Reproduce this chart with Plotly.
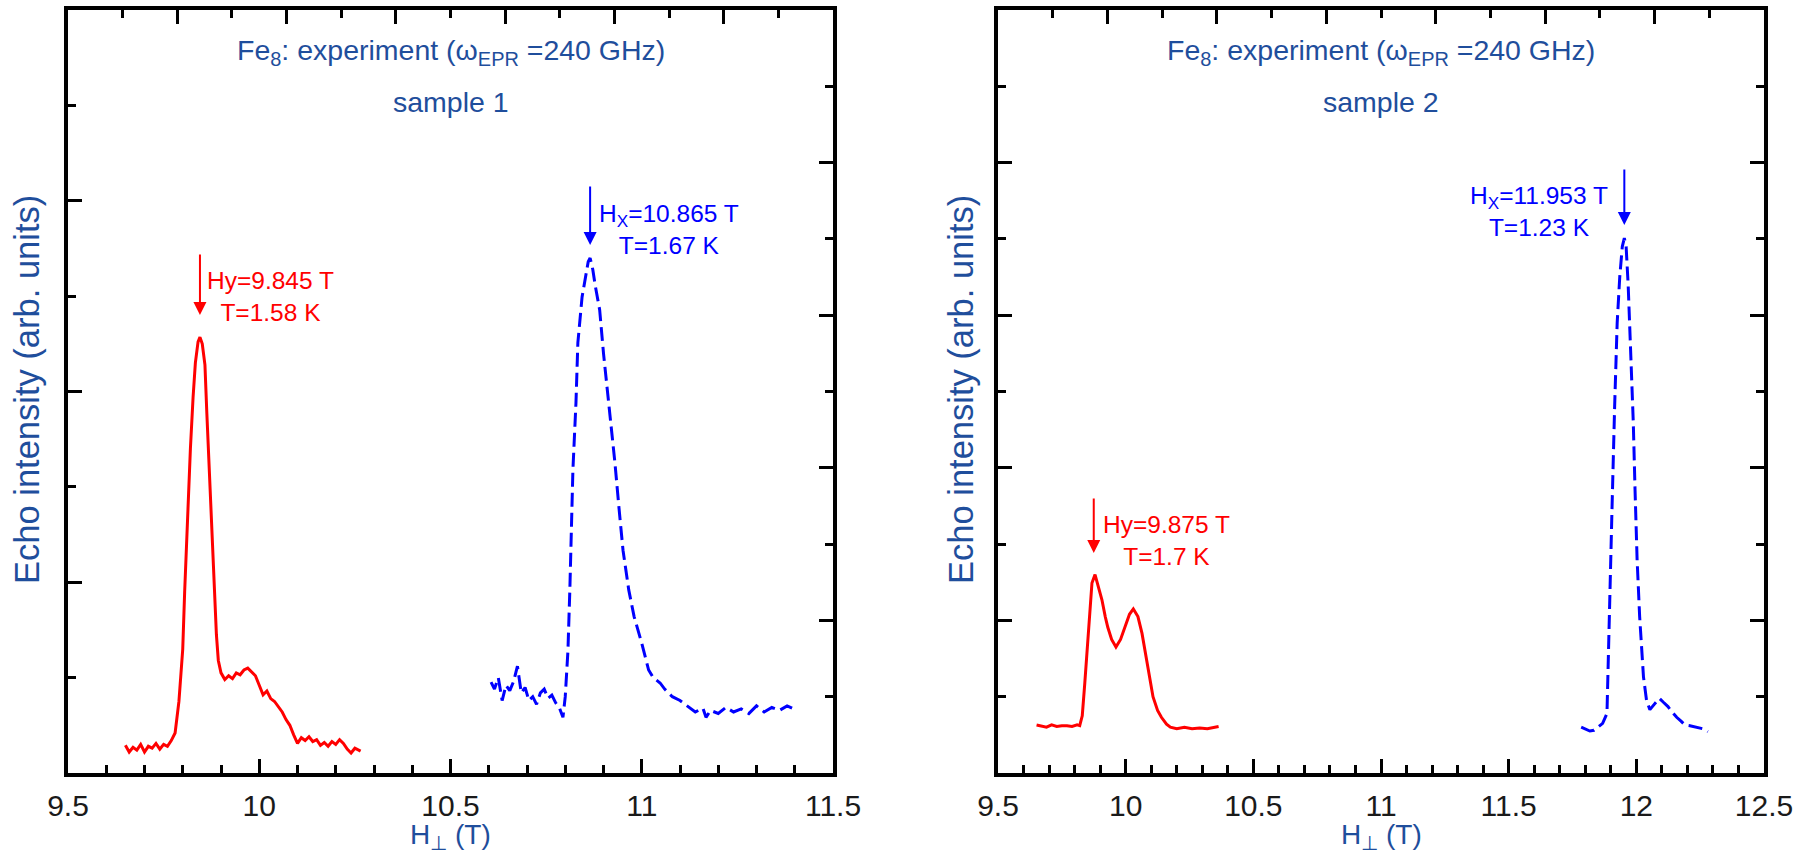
import plotly.graph_objects as go

W, H = 1812, 859
F = "Liberation Sans, Arial, sans-serif"
TITLE_BLUE = "#1f4e9c"

# ---------------- data: sample 1 ----------------
red1_x = [9.650, 9.660, 9.670, 9.680, 9.690, 9.700, 9.710, 9.720, 9.730, 9.740,
          9.750, 9.760, 9.770, 9.780, 9.790, 9.800, 9.805, 9.810, 9.815, 9.820,
          9.827, 9.833, 9.840, 9.845, 9.851, 9.858, 9.863, 9.869, 9.876, 9.882,
          9.888, 9.893, 9.900, 9.910, 9.920, 9.930, 9.940, 9.950, 9.960, 9.970,
          9.980, 9.990, 10.000, 10.010, 10.020, 10.030, 10.040, 10.050, 10.060, 10.070,
          10.080, 10.090, 10.100, 10.110, 10.120, 10.130, 10.140, 10.150, 10.160, 10.170,
          10.180, 10.190, 10.200, 10.210, 10.220, 10.230, 10.240, 10.250, 10.265]
red1_y = [0.29, 0.22, 0.27, 0.24, 0.30, 0.22, 0.28, 0.26, 0.31, 0.25,
          0.30, 0.28, 0.34, 0.42, 0.75, 1.30, 1.90, 2.45, 2.90, 3.40,
          3.94, 4.30, 4.52, 4.57, 4.50, 4.28, 3.77, 3.25, 2.55, 1.95,
          1.45, 1.18, 1.05, 0.98, 1.02, 0.99, 1.05, 1.03, 1.08, 1.10,
          1.06, 1.02, 0.92, 0.82, 0.86, 0.78, 0.75, 0.70, 0.64, 0.56,
          0.50, 0.40, 0.31, 0.37, 0.34, 0.38, 0.33, 0.35, 0.29, 0.32,
          0.28, 0.33, 0.30, 0.35, 0.31, 0.25, 0.21, 0.26, 0.23]

blue1_x = [10.606, 10.615, 10.625, 10.635, 10.645, 10.655, 10.665, 10.675, 10.685, 10.695,
           10.705, 10.715, 10.725, 10.735, 10.745, 10.755, 10.765, 10.775, 10.785, 10.794,
           10.800, 10.807, 10.812, 10.816, 10.820, 10.828, 10.833, 10.844, 10.852, 10.860,
           10.865, 10.872, 10.878, 10.890, 10.900, 10.909, 10.920, 10.930, 10.940, 10.951,
           10.966, 10.980, 11.000, 11.018, 11.030, 11.048, 11.060, 11.080, 11.100, 11.120,
           11.140, 11.160, 11.168, 11.180, 11.200, 11.220, 11.240, 11.260, 11.280, 11.300,
           11.320, 11.340, 11.360, 11.380, 11.393]
blue1_y = [1.19, 1.10, 1.25, 0.95, 1.15, 1.08, 1.20, 1.40, 1.05, 1.12,
           0.95, 1.00, 0.90, 1.05, 1.10, 0.98, 1.02, 0.92, 0.85, 0.73,
           1.00, 1.60, 2.40, 3.20, 3.97, 4.85, 5.64, 6.24, 6.50, 6.70,
           6.75, 6.60, 6.40, 6.07, 5.50, 5.06, 4.59, 4.06, 3.50, 2.92,
           2.40, 2.05, 1.70, 1.35, 1.25, 1.18, 1.10, 1.00, 0.95, 0.87,
           0.80, 0.85, 0.73, 0.82, 0.78, 0.86, 0.80, 0.84, 0.78, 0.88,
           0.80, 0.86, 0.82, 0.88, 0.85]

# ---------------- data: sample 2 ----------------
red2_x = [9.651, 9.670, 9.690, 9.710, 9.730, 9.750, 9.770, 9.790, 9.810, 9.820,
          9.830, 9.840, 9.850, 9.857, 9.868, 9.880, 9.893, 9.907, 9.920, 9.930,
          9.945, 9.962, 9.980, 9.997, 10.015, 10.030, 10.048, 10.064, 10.076, 10.086,
          10.097, 10.107, 10.125, 10.140, 10.160, 10.175, 10.200, 10.230, 10.260, 10.290,
          10.320, 10.345, 10.364]
red2_y = [0.63, 0.62, 0.60, 0.63, 0.61, 0.62, 0.62, 0.61, 0.63, 0.62,
          0.75, 1.18, 1.70, 2.05, 2.49, 2.60, 2.45, 2.27, 2.05, 1.91,
          1.75, 1.65, 1.75, 1.91, 2.08, 2.15, 2.05, 1.83, 1.60, 1.39,
          1.18, 1.00, 0.82, 0.73, 0.64, 0.60, 0.58, 0.60, 0.58, 0.59,
          0.58, 0.60, 0.61]

blue2_x = [11.784, 11.800, 11.818, 11.834, 11.850, 11.868, 11.885, 11.895, 11.905, 11.915,
           11.925, 11.935, 11.945, 11.953, 11.960, 11.968, 11.978, 11.988, 11.995, 12.003,
           12.013, 12.028, 12.040, 12.053, 12.070, 12.090, 12.105, 12.124, 12.140, 12.158,
           12.175, 12.190, 12.210, 12.236, 12.260, 12.280]
blue2_y = [0.60, 0.58, 0.55, 0.56, 0.60, 0.65, 0.78, 2.30, 3.50, 4.80,
           5.90, 6.50, 6.90, 7.01, 6.90, 6.40, 5.60, 4.60, 3.70, 2.80,
           2.05, 1.26, 0.95, 0.83, 0.90, 0.98, 0.93, 0.87, 0.80, 0.73,
           0.68, 0.63, 0.62, 0.60, 0.58, 0.54]

x1_ticks_range = [9.5, 11.5]
x2_ticks_range = [9.5, 12.5]

# ---------------- geometry (pixels -> paper) ----------------
def px(x):
    return x / W

def py(y):
    return 1 - y / H

L1, R1 = 68, 833
L2, R2 = 998, 1764
TOP, BOT = 10, 773
ydom = [py(BOT), py(TOP)]

RED = "#ff0000"
BLUE = "#0000ff"

fig = go.Figure()
fig.add_trace(go.Scatter(x=red1_x, y=red1_y, mode="lines", xaxis="x", yaxis="y",
                         line=dict(color=RED, width=3), showlegend=False))
fig.add_trace(go.Scatter(x=blue1_x, y=blue1_y, mode="lines", xaxis="x", yaxis="y2",
                         line=dict(color=BLUE, width=3, dash="14px,6px"), showlegend=False))
fig.add_trace(go.Scatter(x=red2_x, y=red2_y, mode="lines", xaxis="x2", yaxis="y3",
                         line=dict(color=RED, width=3), showlegend=False))
fig.add_trace(go.Scatter(x=blue2_x, y=blue2_y, mode="lines", xaxis="x2", yaxis="y4",
                         line=dict(color=BLUE, width=3, dash="14px,6px"), showlegend=False))
# invisible traces to register top tick axes
fig.add_trace(go.Scatter(x=[None], y=[None], xaxis="x3", yaxis="y", showlegend=False, hoverinfo="skip"))
fig.add_trace(go.Scatter(x=[None], y=[None], xaxis="x4", yaxis="y3", showlegend=False, hoverinfo="skip"))

tickfont = dict(family=F, size=30, color="#1a1a1a")

def tickax(**kw):
    d = dict(ticks="inside", ticklen=14, tickwidth=3, tickcolor="black",
             minor=dict(ticks="inside", ticklen=8, tickwidth=3, tickcolor="black"),
             showgrid=False, zeroline=False, fixedrange=True)
    d.update(kw)
    return d

MINOR_X = dict(ticks="inside", ticklen=8, tickwidth=3, tickcolor="black", dtick=0.1, tick0=9.5)
MINOR_1 = dict(ticks="inside", ticklen=8, tickwidth=3, tickcolor="black", dtick=1, tick0=0)

eps = 1e-6
fig.update_layout(
    width=W, height=H, margin=dict(l=0, r=0, t=0, b=0),
    paper_bgcolor="white", plot_bgcolor="white",
    xaxis=tickax(domain=[px(L1), px(R1)], range=[x1_ticks_range[0] - eps, x1_ticks_range[1] + eps],
                 anchor="y", tickmode="linear", tick0=9.5, dtick=0.5, minor=MINOR_X,
                 showline=True, linewidth=4, linecolor="black", mirror=True,
                 tickfont=tickfont, ticklabelstandoff=3, automargin=False),
    yaxis=tickax(domain=ydom, range=[0, 8], anchor="x", tickmode="linear", tick0=0, dtick=2,
                 minor=MINOR_1, showticklabels=False, showline=True, linewidth=4,
                 linecolor="black", mirror=True, automargin=False),
    yaxis2=tickax(overlaying="y", side="right", anchor="x", range=[0, 10], tickmode="linear", tick0=0, dtick=2,
                  minor=MINOR_1, showticklabels=False, showline=False, automargin=False),
    xaxis3=tickax(overlaying="x", side="top", anchor="y", range=[0, 14], tickmode="linear", tick0=0, dtick=2,
                  minor=MINOR_1, showticklabels=False, showline=False, automargin=False),
    xaxis2=tickax(domain=[px(L2), px(R2)], range=[x2_ticks_range[0] - eps, x2_ticks_range[1] + eps],
                  anchor="y3", tickmode="linear", tick0=9.5, dtick=0.5, minor=MINOR_X,
                  showline=True, linewidth=4, linecolor="black", mirror=True,
                  tickfont=tickfont, ticklabelstandoff=3, automargin=False),
    yaxis3=tickax(domain=ydom, range=[0, 10], anchor="x2", tickmode="linear", tick0=0, dtick=2,
                  minor=MINOR_1, showticklabels=False, showline=True, linewidth=4,
                  linecolor="black", mirror=True, automargin=False),
    yaxis4=tickax(overlaying="y3", side="right", anchor="x2", range=[0, 10], tickmode="linear", tick0=0, dtick=2,
                  minor=MINOR_1, showticklabels=False, showline=False, automargin=False),
    xaxis4=tickax(overlaying="x2", side="top", anchor="y3", range=[0, 14], tickmode="linear", tick0=0, dtick=2,
                  minor=MINOR_1, showticklabels=False, showline=False, automargin=False),
)

ann = []
def text_ann(x, y, text, size, color, angle=0):
    ann.append(dict(x=px(x), y=py(y), xref="paper", yref="paper", text=text, showarrow=False,
                    xanchor="center", yanchor="middle", textangle=angle,
                    font=dict(family=F, size=size, color=color)))

def arrow_ann(x, ytip, ytail, xref, yref, color):
    ann.append(dict(x=x, y=ytip, ax=x, ay=ytail, xref=xref, yref=yref, axref=xref, ayref=yref,
                    text="", showarrow=True, arrowhead=2, arrowsize=1.3, arrowwidth=2,
                    arrowcolor=color, standoff=0))

# titles
for cx, s in [((L1 + R1) / 2, "sample 1"), ((L2 + R2) / 2, "sample 2")]:
    text_ann(cx, 52, "Fe<sub>8</sub>: experiment (ω<sub>EPR</sub> =240 GHz)", 28.5, TITLE_BLUE)
    text_ann(cx, 102, s, 28.5, TITLE_BLUE)
    text_ann(cx, 836, "H<sub>⊥</sub> (T)", 28, TITLE_BLUE)
text_ann(27, 390, "Echo intensity (arb. units)", 34.5, TITLE_BLUE, -90)
text_ann(961, 390, "Echo intensity (arb. units)", 34.5, TITLE_BLUE, -90)

# peak annotations
text_ann(270, 296, "Hy=9.845 T<br>T=1.58 K", 24.5, RED)
arrow_ann(9.845, (773 - 315) / 95.375, (773 - 253) / 95.375, "x", "y", RED)
text_ann(669, 229, "H<sub>X</sub>=10.865 T<br>T=1.67 K", 24.5, BLUE)
arrow_ann(10.865, (773 - 245) / 76.3, (773 - 185) / 76.3, "x", "y2", BLUE)
text_ann(1166, 540, "Hy=9.875 T<br>T=1.7 K", 24.5, RED)
arrow_ann(9.875, (773 - 553) / 76.3, (773 - 497) / 76.3, "x2", "y3", RED)
text_ann(1539, 211, "H<sub>X</sub>=11.953 T<br>T=1.23 K", 24.5, BLUE)
arrow_ann(11.953, (773 - 225) / 76.3, (773 - 168) / 76.3, "x2", "y3", BLUE)

fig.update_layout(annotations=ann)
fig.write_html("out.html")
